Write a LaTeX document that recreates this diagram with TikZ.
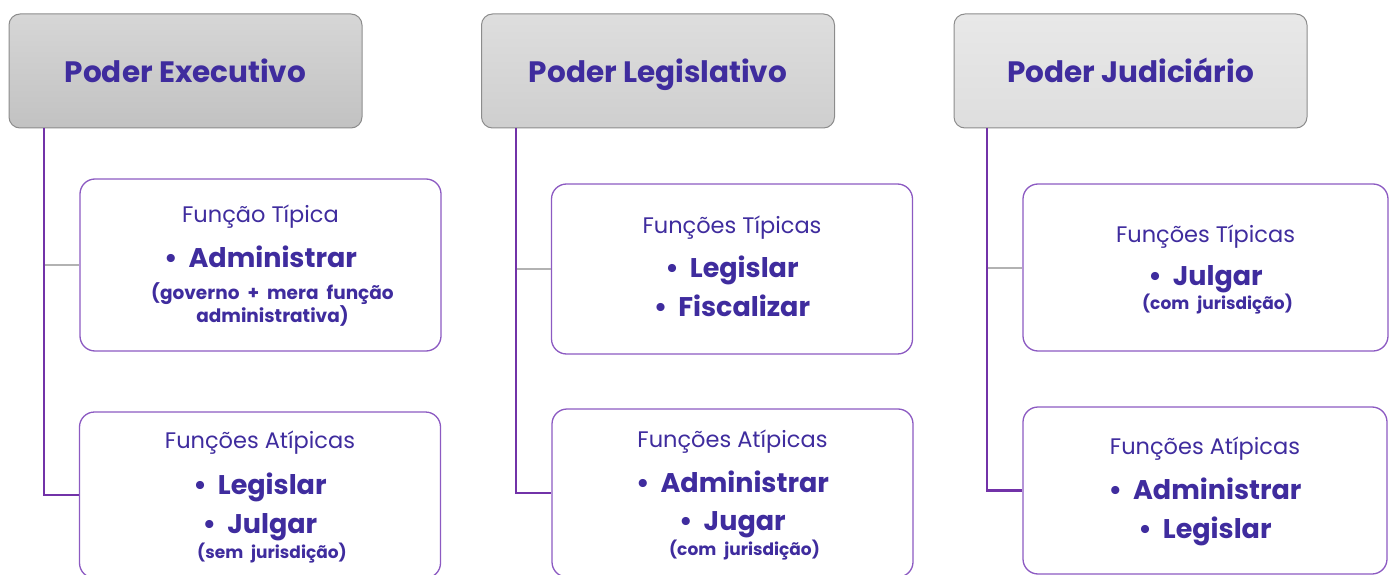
\documentclass[tikz,border=0pt]{standalone}
\usepackage{fontspec}
\setmainfont{Poppins}
\usepackage{tikz}
\usetikzlibrary{positioning}

\definecolor{ink}{HTML}{3F2C9E}
\definecolor{purp}{HTML}{7232A8}
\definecolor{frame}{HTML}{8C5AC2}

% lines of a box: heading, bullet item, small note
\newcommand{\tight}{\fontsize{10pt}{0pt}\selectfont\lineskiplimit -1000pt\relax}
\newcommand{\hd}[1]{{\fontsize{22.5pt}{0pt}\selectfont\rule{0pt}{24pt}#1}}
\newcommand{\itm}[2][0pt]{{\fontsize{27pt}{0pt}\selectfont\bfseries\rule[-#1]{0pt}{#1}\textbullet\hspace{11pt}#2}}
\newcommand{\sm}[3][0pt]{{\fontsize{#2}{0pt}\selectfont\bfseries\spaceskip=8pt\rule[-#1]{0pt}{#1}\hspace{24pt}#3}}

\begin{document}
\begin{tikzpicture}[x=1pt,y=-1pt,
    head/.style={draw=gray!90, line width=1pt, rounded corners=11pt,
        minimum width=353pt, minimum height=114pt, text=ink,
        text height=30pt, text depth=6pt,
        font=\fontsize{29.5pt}{32pt}\selectfont\bfseries},
    box/.style={draw=frame, line width=1.3pt, fill=white, rounded corners=15pt,
        minimum width=361pt, text=ink, align=center, inner sep=0pt,
        font=\tight},
    stem/.style={draw=purp, line width=2.6pt},
    twig/.style={draw=gray!60, line width=2pt}]
    \clip (0,0) rectangle (1392,575);

    \node [head, top color=gray!32, bottom color=gray!48] (h1) at (185.5,71) {Poder Executivo};
    \node [head, top color=gray!26, bottom color=gray!38] (h2) at (658,71) {Poder Legislativo};
    \node [head, top color=gray!18, bottom color=gray!26] (h3) at (1130.5,71) {Poder Judiciário};

    \node [box, minimum height=172pt] (t1) at (260.5,265)
        {\hd{Função Típica}\\[45pt] \itm{Administrar}\\[32pt]
         \sm{18.5pt}{(governo + mera função}\\[23pt] \sm[9pt]{18.5pt}{administrativa)}};
    \node [box, minimum height=166pt] (a1) at (260,495)
        {\hd{Funções Atípicas}\\[46pt] \itm{Legislar}\\[39pt] \itm{Julgar}\\[24.5pt]
         \sm[7.5pt]{17pt}{(sem jurisdição)}};

    \node [box, minimum height=170pt] (t2) at (732,269)
        {\hd{Funções Típicas}\\[44pt] \itm{Legislar}\\[39pt] \itm[12pt]{Fiscalizar}};
    \node [box, minimum height=168pt] (a2) at (732.5,493)
        {\hd{Funções Atípicas}\\[45pt] \itm{Administrar}\\[38pt] \itm{Jugar}\\[24.5pt]
         \sm[7.5pt]{17pt}{(com jurisdição)}};

    \node [box, minimum width=365pt, minimum height=167pt] (t3) at (1205.5,267.5)
        {\hd{Funções Típicas}\\[43pt] \itm{Julgar}\\[23.5pt]
         \sm[7.5pt]{17pt}{(com jurisdição)}};
    \node [box, minimum width=364pt, minimum height=167pt] (a3) at (1205,490.5)
        {\hd{Funções Atípicas}\\[45pt] \itm{Administrar}\\[39pt] \itm[12pt]{Legislar}};

    \coordinate (v1) at (44,128);
    \coordinate (v2) at (516,128);
    \coordinate (v3) at (987,128);

    \draw [twig] (t1.west) -- (t1.west -| v1);
    \draw [twig] (t2.west) -- (t2.west -| v2);
    \draw [twig] (t3.west) -- (t3.west -| v3);

    \draw [stem] (v1) |- (a1.west);
    \draw [stem] (v2) |- (a2.west);
    \draw [stem] (v3) |- (a3.west);
\end{tikzpicture}
\end{document}
